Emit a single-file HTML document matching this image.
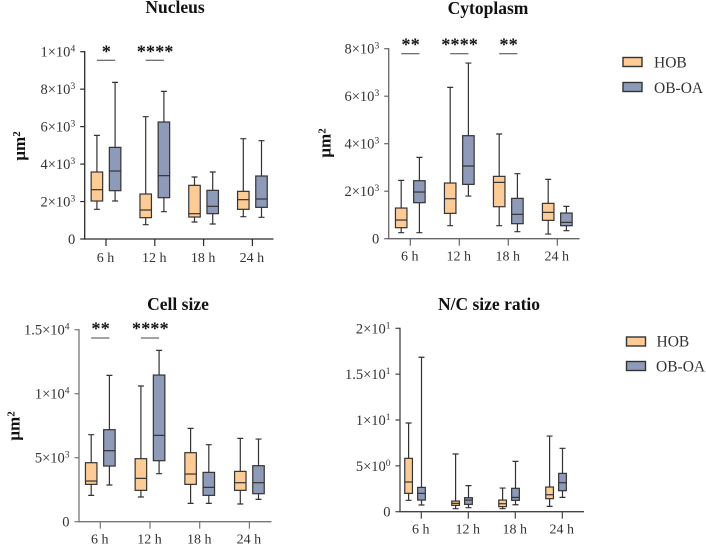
<!DOCTYPE html>
<html>
<head>
<meta charset="utf-8">
<style>
html,body{margin:0;padding:0;background:#fff;}
svg{display:block;font-family:"Liberation Serif",serif;filter:blur(0.35px);}
.tick{font-size:14.5px;fill:#333;}
.cat{font-size:14px;fill:#333;}
.title{font-size:17.5px;font-weight:bold;fill:#111;}
.ylab{font-size:17px;font-weight:bold;fill:#111;}
.star{font-size:18.4px;font-weight:bold;fill:#111;}
.leg{font-size:15.5px;fill:#333;}
</style>
</head>
<body>
<svg id="figure" width="706" height="547" viewBox="0 0 706 547" xmlns="http://www.w3.org/2000/svg">
  <text class="title" x="175" y="13" text-anchor="middle">Nucleus</text>
  <text class="title" x="488" y="14" text-anchor="middle">Cytoplasm</text>
  <text class="title" x="178" y="310" text-anchor="middle">Cell size</text>
  <text class="title" x="489" y="310" text-anchor="middle">N/C size ratio</text>

  <text class="ylab" transform="translate(25,146) rotate(-90)" text-anchor="middle">µm<tspan dy="-5" font-size="11">2</tspan></text>
  <text class="ylab" transform="translate(330.5,143) rotate(-90)" text-anchor="middle">µm<tspan dy="-5" font-size="11">2</tspan></text>
  <text class="ylab" transform="translate(19.5,426) rotate(-90)" text-anchor="middle">µm<tspan dy="-5" font-size="11">2</tspan></text>

  <g>
    <rect x="623" y="57.5" width="19" height="9" fill="#FDCB96" stroke="#333" stroke-width="1.4"/>
    <text class="leg" x="654" y="67.5">HOB</text>
    <rect x="623" y="82.5" width="19" height="9" fill="#8E9BB8" stroke="#333" stroke-width="1.4"/>
    <text class="leg" x="654" y="93">OB-OA</text>
  </g>
  <g>
    <rect x="626.5" y="337" width="19" height="9" fill="#FDCB96" stroke="#333" stroke-width="1.4"/>
    <text class="leg" x="656.5" y="346.5">HOB</text>
    <rect x="626.5" y="361.5" width="19" height="9" fill="#8E9BB8" stroke="#333" stroke-width="1.4"/>
    <text class="leg" x="656" y="371.5">OB-OA</text>
  </g>
</svg>
<script>
// Shared categories
const categories = ["6 h", "12 h", "18 h", "24 h"];

// Each box is [whisker-high, q3, median, q1, whisker-low]
const nucleusHob = [[5534,3577,2633,2028,1584],[6530,2402,1548,1139,765],[3310,2865,1352,1174,907],[5356,2544,2100,1584,1192]];
const nucleusOb = [[8363,4893,3630,2580,2028],[7883,6246,3381,2206,1459],[3577,2598,1744,1352,800],[5249,3363,2135,1690,1157]];
const nucleusTicks = [0,2000,4000,6000,8000,10000];
const nucleusTickLabels = ["0","2×10^3","4×10^3","6×10^3","8×10^3","1×10^4"];
const nucleusSig = ["*","****","",""];

const cytoHob = [[2456,1291,786,463,253],[6372,2344,1684,1067,547],[4407,2625,2372,1347,547],[2498,1488,1109,772,196]];
const cytoOb = [[3425,2442,1965,1516,253],[7396,4337,3060,2288,1796],[2737,1698,1025,632,295],[1361,1081,688,547,337]];
const cytoTicks = [0,2000,4000,6000,8000];
const cytoTickLabels = ["0","2×10^3","4×10^3","6×10^3","8×10^3"];
const cytoSig = ["**","****","**",""];

const cellHob = [[6797,4609,3177,2917,2057],[10599,4922,3385,2448,1927],[7292,5391,3724,2917,1432],[6510,3932,3047,2448,1380]];
const cellOb = [[11432,7188,5547,4349,2865],[13385,11458,6745,4766,3750],[6016,3854,2682,2057,1432],[6458,4375,3047,2188,1745]];
const cellTicks = [0,5000,10000,15000];
const cellTickLabels = ["0","5×10^3","1×10^4","1.5×10^4"];
const cellSig = ["**","****","",""];

const ratioHob = [[9.67,5.82,3.24,2.0,1.24],[6.29,1.16,0.91,0.69,0.33],[2.58,1.27,0.87,0.55,0.33],[8.25,2.69,1.85,1.42,0.58]];
const ratioOb = [[16.84,2.65,2.0,1.27,0.73],[2.84,1.53,1.27,0.8,0.44],[5.49,2.55,1.56,1.24,0.76],[6.91,4.18,3.16,2.29,1.56]];
const ratioTicks = [0,5,10,15,20];
const ratioTickLabels = ["0","5×10^0","1×10^1","1.5×10^1","2×10^1"];
const ratioSig = ["","","",""];

const svg = document.getElementById('figure');
const NS = 'http://www.w3.org/2000/svg';

function mk(tag, attrs, parent) {
  const el = document.createElementNS(NS, tag);
  for (const k in attrs) el.setAttribute(k, attrs[k]);
  parent.appendChild(el);
  return el;
}

function drawBox(g, name, vals, cx, bw, fill, yScale) {
  const hi = yScale(vals[0]), q3 = yScale(vals[1]), med = yScale(vals[2]), q1 = yScale(vals[3]), lo = yScale(vals[4]);
  const stroke = '#333';
  const whisker = mk('path', {d: 'M' + (cx - 3) + ' ' + hi + 'H' + (cx + 3) + 'M' + cx + ' ' + hi + 'V' + q3 + 'M' + cx + ' ' + q1 + 'V' + lo + 'M' + (cx - 3) + ' ' + lo + 'H' + (cx + 3), fill: 'none', stroke: stroke, 'stroke-width': 1.2}, g);
  
  
  const box = mk('rect', {x: cx - bw / 2, y: q3, width: bw, height: q1 - q3, fill: fill, stroke: stroke, 'stroke-width': 1.2}, g);
  
  
  const median = mk('line', {x1: cx - bw / 2, x2: cx + bw / 2, y1: med, y2: med, stroke: stroke, 'stroke-width': 1.2}, g);
  
  
}

function drawPanel(p) {
  const g = mk('g', {}, svg);
  
  
  const yScale = v => p.y0 - (v / p.yMax) * (p.y0 - p.yTop);
  const xScale = i => p.x0Cat + i * p.catStep;

  const yAxis = mk('line', {x1: p.xAxis, x2: p.xAxis, y1: p.yTop - 0.6, y2: p.y0 + 0.6, stroke: p.axisColor, 'stroke-width': 1.3}, g);
  
  
  const xAxis = mk('line', {x1: p.xAxis, x2: p.xEnd, y1: p.y0, y2: p.y0, stroke: p.axisColor, 'stroke-width': 1.3}, g);
  
  

  p.ticks.forEach((v, i) => {
    const y = yScale(v);
    const t = mk('line', {x1: p.xAxis - 4.5, x2: p.xAxis, y1: y, y2: y, stroke: p.axisColor, 'stroke-width': 1.2}, g);
    
    
    const parts = p.tickLabels[i].split('^');
    const label = mk('text', {x: p.xAxis - 9.5, y: y + 5, 'text-anchor': 'end', class: 'tick'}, g);
    
    
    label.textContent = parts[0];
    if (parts[1]) {
      const sup = mk('tspan', {dy: -5, 'font-size': 9.5}, label);
      
      
      sup.textContent = parts[1];
    }
  });

  categories.forEach((c, i) => {
    const x = xScale(i);
    const t = mk('line', {x1: x, x2: x, y1: p.y0, y2: p.y0 + 7, stroke: p.axisColor, 'stroke-width': 1.2}, g);
    
    
    const label = mk('text', {x: x - 0.5, y: p.y0 + p.catDy, 'text-anchor': 'middle', class: 'cat'}, g);
    
    
    label.textContent = c;

    drawBox(g, p.name + '-hob-' + i, p.hob[i], x + p.hobOff, p.boxW, '#FDCB96', yScale);
    drawBox(g, p.name + '-ob-oa-' + i, p.ob[i], x + p.obOff, p.boxW, '#8E9BB8', yScale);

    if (p.sig[i]) {
      const bar = mk('line', {x1: x + p.hobOff, x2: x + p.obOff, y1: p.sigY, y2: p.sigY, stroke: '#444', 'stroke-width': 1}, g);
      
      
      const star = mk('text', {x: x + 0.3, y: p.sigY + p.starDy, 'text-anchor': 'middle', class: 'star'}, g);
      
      
      star.textContent = p.sig[i];
    }
  });
}

drawPanel({name: 'nucleus', hob: nucleusHob, ob: nucleusOb, ticks: nucleusTicks, tickLabels: nucleusTickLabels, sig: nucleusSig, axisColor: '#2a2a2a',
  yMax: 10000, xAxis: 84.7, xEnd: 273.5, yTop: 51.7, y0: 239, x0Cat: 106, catStep: 48.8, hobOff: -9.1, obOff: 9.1, boxW: 11.5, catDy: 23, sigY: 60.3, starDy: -3});
drawPanel({name: 'cytoplasm', hob: cytoHob, ob: cytoOb, ticks: cytoTicks, tickLabels: cytoTickLabels, sig: cytoSig, axisColor: '#666',
  yMax: 8000, xAxis: 388.7, xEnd: 579.5, yTop: 48.7, y0: 238.7, x0Cat: 410.3, catStep: 49, hobOff: -9.1, obOff: 9.1, boxW: 11.5, catDy: 22, sigY: 53.7, starDy: -3.4});
drawPanel({name: 'cell-size', hob: cellHob, ob: cellOb, ticks: cellTicks, tickLabels: cellTickLabels, sig: cellSig, axisColor: '#777',
  yMax: 15000, xAxis: 79, xEnd: 271.5, yTop: 329.7, y0: 521.7, x0Cat: 100.3, catStep: 49.7, hobOff: -9.1, obOff: 9.1, boxW: 11.5, catDy: 21.6, sigY: 338, starDy: -3.4});
drawPanel({name: 'nc-ratio', hob: ratioHob, ob: ratioOb, ticks: ratioTicks, tickLabels: ratioTickLabels, sig: ratioSig, axisColor: '#444',
  yMax: 20, xAxis: 400, xEnd: 584, yTop: 328.3, y0: 511.7, x0Cat: 421.3, catStep: 47, hobOff: -12.7, obOff: 0.2, boxW: 7.7, catDy: 21.6, sigY: 0, starDy: 0});
</script>
</body>
</html>
